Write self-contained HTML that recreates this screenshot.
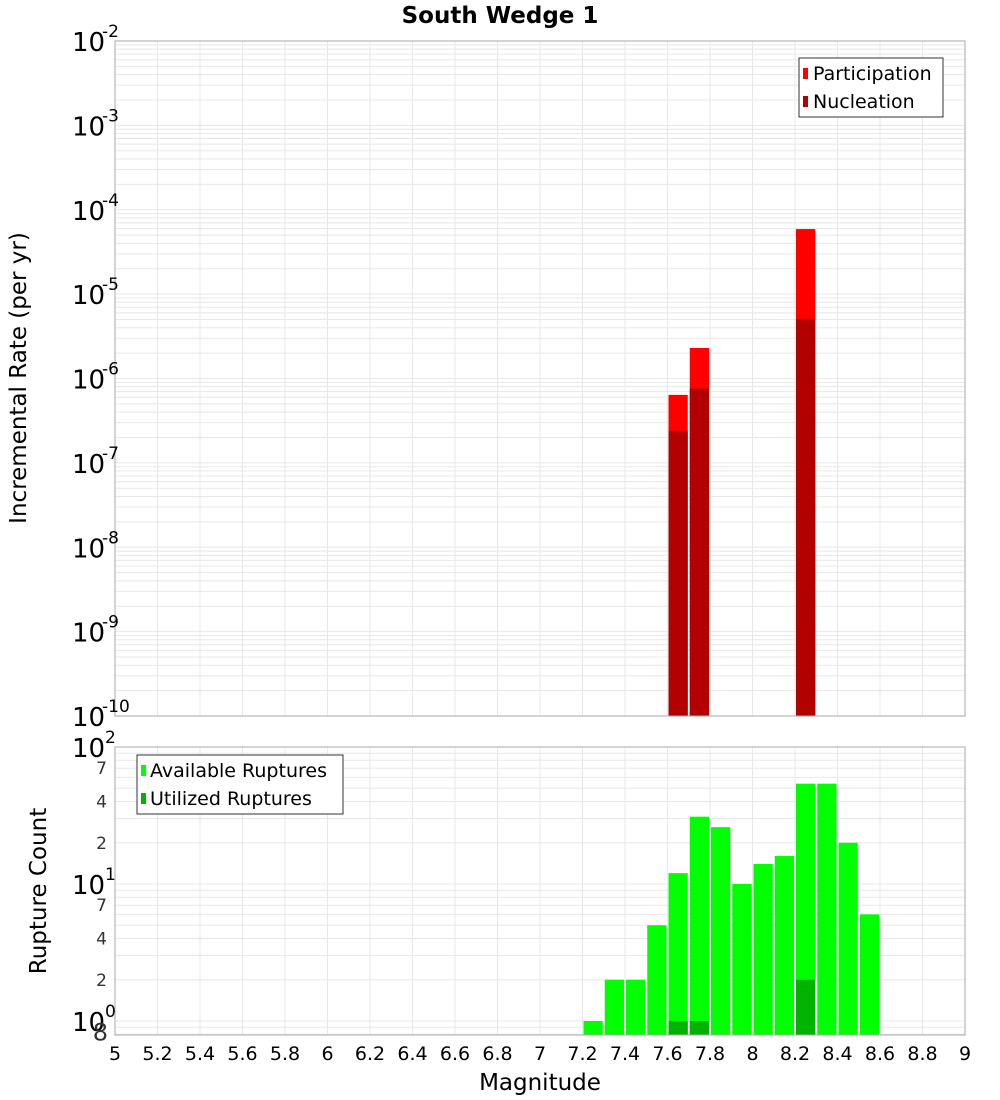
<!DOCTYPE html>
<html><head><meta charset="utf-8"><style>
body{margin:0;background:#fff}
svg{display:block;font-family:"DejaVu Sans","Liberation Sans",sans-serif}
</style></head><body>
<svg id="c" width="1000" height="1100" xmlns="http://www.w3.org/2000/svg"></svg>
<script>
const bins=[7.65,7.75,8.25];
const participation=[6.4e-7,2.3e-6,5.9e-5];
const nucleation=[2.4e-7,7.6e-7,5.1e-6];
const countBins=[7.25,7.35,7.45,7.55,7.65,7.75,7.85,7.95,8.05,8.15,8.25,8.35,8.45,8.55];
const available=[1,2,2,5,12,31,26,10,14,16,54,54,20,6];
const utilBins=[7.65,7.75,8.25];
const utilized=[1,1,2];
const xTicks=[5,5.2,5.4,5.6,5.8,6,6.2,6.4,6.6,6.8,7,7.2,7.4,7.6,7.8,8,8.2,8.4,8.6,8.8,9];

const S=document.getElementById('c'),NS='http://www.w3.org/2000/svg';
function mk(t,a,txt,p){const e=document.createElementNS(NS,t);for(const k in a)e.setAttribute(k,a[k]);if(txt!=null)e.textContent=txt;(p||S).appendChild(e);return e;}
const L=115,R=965;
const X=v=>L+(v-5)/4*(R-L);
const T0=41,T1=716;const YT=v=>T0+(-2-Math.log10(v))/8*(T1-T0);
const B0=747,B1=1035;const YB=v=>B0+(2-Math.log10(v))*137;

const g=mk('g',{});
for(let d=-10;d<-2;d++)for(let m=1;m<10;m++){const y=YT(m*Math.pow(10,d));mk('line',{x1:L,x2:R,y1:y,y2:y,stroke:'#e8e8e8','stroke-width':1},null,g);}
for(let d=-1;d<2;d++)for(let m=1;m<10;m++){const y=YB(m*Math.pow(10,d));if(y>B0&&y<B1)mk('line',{x1:L,x2:R,y1:y,y2:y,stroke:'#e8e8e8','stroke-width':1},null,g);}
xTicks.forEach(t=>{const x=X(t);mk('line',{x1:x,x2:x,y1:T0,y2:T1,stroke:'#e8e8e8'},null,g);mk('line',{x1:x,x2:x,y1:B0,y2:B1,stroke:'#e8e8e8'},null,g);});

const bw=0.1*(R-L)/4;
bins.forEach((b,i)=>{
 let r=mk('rect',{x:X(b)-bw/2+1,y:YT(participation[i]),width:bw-2,height:T1-YT(participation[i]),fill:'#ff0000'});
 
 r=mk('rect',{x:X(b)-bw/2+1,y:YT(nucleation[i]),width:bw-2,height:T1-YT(nucleation[i]),fill:'#b30000'});
 
});
countBins.forEach((b,i)=>{
 const r=mk('rect',{x:X(b)-bw/2+1,y:YB(available[i]),width:bw-2,height:B1-YB(available[i]),fill:'#00ff00'});
 
});
utilBins.forEach((b,i)=>{
 const r=mk('rect',{x:X(b)-bw/2+1,y:YB(utilized[i]),width:bw-2,height:B1-YB(utilized[i]),fill:'#00b300'});
 
});

mk('rect',{x:L,y:T0,width:R-L,height:T1-T0,fill:'none',stroke:'#aaa'});
mk('rect',{x:L,y:B0,width:R-L,height:B1-B0,fill:'none',stroke:'#aaa'});

for(let d=-10;d<=-2;d++){const y=YT(Math.pow(10,d));
 const t=mk('text',{x:72,y:y+10,'font-size':26,fill:'#000'},'10');
 mk('text',{x:102,y:y-4,'font-size':17,fill:'#000'},String(d));}
[[100,'2'],[10,'1'],[1,'0']].forEach(([v,e])=>{const y=YB(v);
 const t=mk('text',{x:72,y:y+10,'font-size':26},'10');
 mk('text',{x:105,y:y-4,'font-size':17},e);});
[[70,'7'],[40,'4'],[20,'2'],[7,'7'],[4,'4'],[2,'2'],[0.8,'8']].forEach(([v,s])=>{
 const t=mk('text',{x:v==0.8?108:107,y:YB(v)+6,'font-size':v==0.8?24:17,'text-anchor':'end',fill:'#333'},s);});
xTicks.forEach(t=>{const e=mk('text',{x:X(t),y:1060,'font-size':19,'text-anchor':'middle'},String(t));});

let e;
e=mk('text',{x:500,y:23,'font-size':23,'font-weight':'bold','text-anchor':'middle'},'South Wedge 1');
e=mk('text',{x:540,y:1090,'font-size':23,'text-anchor':'middle'},'Magnitude');
e=mk('text',{x:0,y:0,'font-size':23,'text-anchor':'middle',transform:'translate(26,378) rotate(-90)'},'Incremental Rate (per yr)');
e=mk('text',{x:0,y:0,'font-size':23,'text-anchor':'middle',transform:'translate(46,891) rotate(-90)'},'Rupture Count');

let lg=mk('g',{});
mk('rect',{x:799,y:58,width:144,height:59,fill:'#fff',stroke:'#333'},null,lg);
mk('rect',{x:803,y:68,width:5,height:11,fill:'#ff0000'},null,lg);
mk('text',{x:813,y:80,'font-size':19},'Participation',lg);
mk('rect',{x:803,y:96,width:5,height:11,fill:'#b30000'},null,lg);
mk('text',{x:813,y:108,'font-size':19},'Nucleation',lg);
lg=mk('g',{});
mk('rect',{x:137,y:755,width:206,height:59,fill:'#fff',stroke:'#333'},null,lg);
mk('rect',{x:141,y:765,width:5,height:11,fill:'#00ff00'},null,lg);
mk('text',{x:150,y:777,'font-size':19},'Available Ruptures',lg);
mk('rect',{x:141,y:793,width:5,height:11,fill:'#00b300'},null,lg);
mk('text',{x:150,y:805,'font-size':19},'Utilized Ruptures',lg);
</script>
</body></html>
